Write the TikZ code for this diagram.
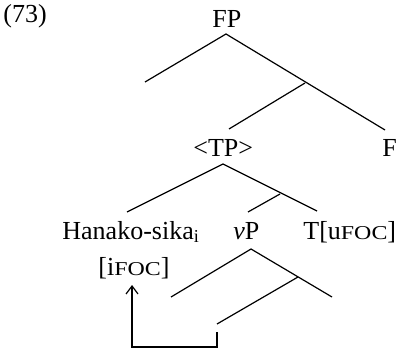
\documentclass[tikz,border=0pt]{standalone}
\usepackage{fontspec}
\usepackage{graphicx}
\setmainfont{Liberation Serif}
\usetikzlibrary{arrows.meta}
% small capitals for feature names (wide, reduced height)
\newcommand{\feat}[1]{\scalebox{1.22}[1]{\fontsize{9.8}{10}\selectfont #1}}
\begin{document}
\begin{tikzpicture}[x=0.5pt,y=-0.5pt,
  lbl/.style={inner sep=0pt, anchor=base west, font=\fontsize{13}{15}\selectfont},
  branch/.style={line width=0.6pt},
  movearrow/.style={line width=0.6pt, -{Straight Barb[length=4pt,width=6pt]}}]
\useasboundingbox (0,0) rectangle (399,351);

% labels
\node[lbl] (ex) at (3,23) {(73)};
\node[lbl] (fp) at (212,28) {FP};
\node[lbl] (tp) at (193,157) {<TP>};
\node[lbl] (f) at (382,157) {F};
\node[lbl] (subj) at (62,239) {Hanako-sika\textsubscript{i}};
\node[lbl] (vp) at (233,239) {\textit{v}P};
\node[lbl] (t) at (303,239) {T[u\feat{FOC}]};
\node[lbl] (ifoc) at (98,275) {[i\feat{FOC}]};

% branch points
\coordinate (fpTop) at (226,34);
\coordinate (fpL) at (145,82);
\coordinate (fpJ) at (305,83);
\coordinate (fEnd) at (385,130);
\coordinate (tpEnd) at (229,129);
\coordinate (tpTop) at (223,164);
\coordinate (subjEnd) at (127,212);
\coordinate (tEnd) at (317,211);
\coordinate (tpJ) at (280,194);
\coordinate (vpEnd) at (248,212);
\coordinate (vpTop) at (251,249);
\coordinate (vpL) at (171,297);
\coordinate (vpR) at (332,297);
\coordinate (vpJ) at (298,277);
\coordinate (vpLow) at (217,324);

% movement path
\coordinate (mvStart) at (217,332);
\coordinate (mvBase) at (217,347);
\coordinate (mvTip) at (132,285);

% tree
\draw[branch] (fpL) -- (fpTop) -- (fEnd);
\draw[branch] (fpJ) -- (tpEnd);
\draw[branch] (subjEnd) -- (tpTop) -- (tEnd);
\draw[branch] (tpJ) -- (vpEnd);
\draw[branch] (vpL) -- (vpTop) -- (vpR);
\draw[branch] (vpJ) -- (vpLow);

% arrow to the focus feature
\draw[movearrow] (mvStart) -- (mvBase) -| (mvTip);
\end{tikzpicture}
\end{document}
